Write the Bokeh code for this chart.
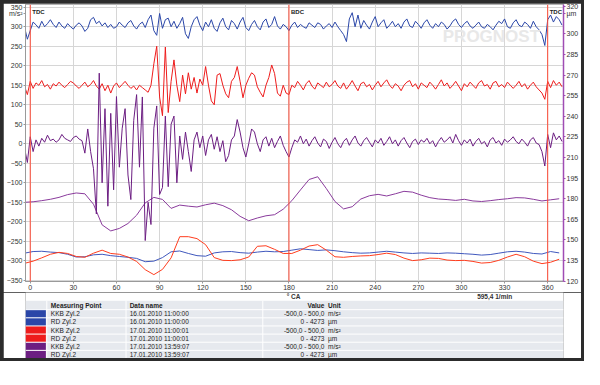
import numpy as np
from bokeh.plotting import figure
from bokeh.models import Range1d, LinearAxis, FixedTicker, Span, Label
from bokeh.layouts import column
from bokeh.embed import file_html
from bokeh.resources import INLINE
from bokeh.core.properties import value

# ---------------- data ----------------
# acceleration traces (KKB, m/s² incl. display offset), every 2 deg crank angle from -4 deg
kkb_start, kkb_step = -4, 2
kkb_blue = [
    300, 268, 290, 312, 305, 296, 314, 300, 308, 318,
    306, 298, 312, 302, 296, 308, 300, 294, 304, 310,
    302, 288, 296, 318, 324, 308, 314, 302, 310, 298,
    306, 296, 300, 312, 304, 298, 310, 316, 302, 294,
    306, 312, 298, 318, 330, 290, 278, 334, 296, 318,
    322, 300, 314, 296, 308, 324, 282, 270, 300, 318,
    326, 304, 290, 312, 300, 318, 296, 288, 310, 322,
    300, 292, 316, 308, 294, 312, 324, 298, 290, 306,
    316, 300, 292, 312, 320, 298, 306, 326, 302, 294,
    306, 300, 290, 304, 312, 298, 306, 300, 296, 310,
    304, 298, 310, 306, 294, 302, 308, 298, 312, 300,
    290, 280, 262, 320, 336, 300, 330, 296, 316, 304,
    294, 312, 326, 300, 310, 318, 296, 304, 314, 300,
    308, 296, 312, 320, 302, 298, 314, 306, 296, 310,
    318, 304, 296, 308, 300, 312, 306, 294, 302, 314,
    320, 306, 298, 308, 314, 302, 296, 304, 312, 300,
    296, 306, 300, 292, 304, 314, 308, 320, 300, 296,
    310, 318, 304, 300, 312, 306, 296, 314, 300, 292,
    280, 252, 318, 330, 312, 326, 318, 304,
]
kkb_red = [
    148, 126, 160, 142, 156, 150, 162, 146, 152, 140,
    154, 148, 158, 150, 144, 152, 160, 156, 148, 142,
    150, 158, 146, 152, 162, 148, 140, 154, 136, 150,
    130, 148, 156, 144, 152, 160, 150, 142, 148, 138,
    150, 144, 138, 132, 150, 205, 250, 120, 72, 248,
    80, 160, 215, 150, 108, 176, 128, 182, 140, 170,
    130, 166, 150, 198, 150, 110, 100, 176, 180, 150,
    128, 118, 160, 170, 198, 160, 118, 150, 168, 182,
    176, 146, 132, 120, 150, 170, 202, 180, 130, 122,
    150, 130, 126, 150, 144, 160, 150, 138, 154, 162,
    148, 140, 156, 150, 144, 158, 146, 152, 162, 148,
    142, 156, 140, 150, 162, 148, 136, 154, 158, 146,
    152, 138, 150, 160, 146, 156, 164, 150, 142, 154,
    148, 136, 150, 158, 162, 146, 154, 140, 156, 150,
    144, 158, 150, 140, 152, 164, 148, 156, 142, 150,
    160, 148, 136, 154, 146, 158, 150, 142, 156, 162,
    148, 152, 140, 156, 160, 146, 152, 144, 158, 150,
    142, 150, 160, 146, 154, 140, 150, 158, 146, 138,
    130, 114, 160, 144, 162, 150, 158, 146,
]
kkb_purple = [
    -10, -48, 18, -20, 10, -6, 14, 4, 22, 8,
    12, 4, 10, 24, 14, 10, 6, 16, 20, 12,
    8, -24, 38, -20, -64, -180, 181, -100, 90, -160,
    78, -118, 121, -60, 40, 90, -80, -143, 60, 126,
    -60, 120, -248, -150, -207, 40, 97, -130, -112, 71,
    -110, 50, 71, -100, 20, -40, 30, -20, -71, 10,
    30, -10, 20, -30, 10, 24, -14, 18, -20, 8,
    -46, -30, 10, 20, 62, 30, -10, -34, 0, 38,
    30, 0, -20, 10, 18, -6, 14, -10, 6, 20,
    -4, -20, -34, -10, 10, 4, 20, 0, 12, -6,
    8, 18, 2, -8, 12, 6, -12, 4, 16, 0,
    -10, 6, 14, -4, 10, 20, 2, -6, 8, 16,
    4, -8, 10, 2, 14, -4, 6, 18, 0, 10,
    -6, 8, 16, 2, -10, 6, 12, -2, 10, 4,
    14, 0, 8, -8, 6, 16, 4, 10, 18, 2,
    24, 8, -4, 10, 2, 12, -6, 6, 14, 0,
    6, -8, 10, 16, 2, 8, -4, 12, 4, 10,
    18, 6, 0, 12, 4, -6, 10, 16, 2, -2,
    -20, -57, 24, -10, 28, 10, 20, 6,
]

# displacement traces (RD, µm), every 6 deg from -4 deg
rd_start, rd_step = -4, 6
rd_purple = [
    177.4, 177.8, 178.6, 179.6, 181.0, 183.0, 184.2, 183.6, 176.0, 161.0,
    156.6, 158.4, 162.0, 168.0, 177.0, 181.0, 179.5, 173.0, 175.4, 174.6,
    174.0, 175.6, 176.8, 175.0, 172.0, 167.2, 164.0, 166.0, 167.6, 168.4,
    172.4, 178.6, 186.4, 194.0, 196.0, 187.4, 178.0, 172.6, 174.2, 179.8,
    182.2, 183.2, 182.0, 183.6, 185.4, 184.8, 182.6, 180.8, 179.8, 179.4,
    178.8, 179.6, 178.4, 178.0, 178.6, 179.4, 180.0, 180.8, 180.6, 179.6,
    178.4, 179.2, 180.0,
]
rd_blue = [
    140.4, 141.6, 141.8, 141.2, 140.8, 139.6, 137.6, 137.8, 139.2, 139.6,
    138.6, 138.0, 137.4, 136.6, 134.2, 134.6, 137.2, 141.4, 142.0, 140.2,
    138.6, 138.2, 140.6, 141.4, 141.6, 140.8, 140.4, 141.2, 141.8, 141.4,
    141.6, 142.6, 143.6, 143.0, 142.4, 142.8, 142.2, 141.4, 140.8, 140.4,
    140.6, 141.2, 141.8, 141.2, 140.6, 140.2, 140.6, 140.4, 140.2, 140.6,
    140.4, 140.0, 139.6, 139.0, 139.4, 140.4, 141.4, 141.8, 141.2, 140.2,
    139.8, 141.6, 140.6,
]
rd_red = [
    133.0, 134.6, 137.0, 139.6, 141.0, 140.2, 138.0, 137.4, 140.4, 142.6,
    140.2, 139.6, 137.6, 134.4, 128.4, 124.8, 128.6, 137.0, 152.4, 152.4,
    151.0, 146.6, 137.2, 135.2, 135.0, 135.6, 137.6, 145.4, 145.8, 143.2,
    140.2, 140.2, 142.6, 145.6, 146.6, 142.6, 137.8, 137.4, 138.0, 138.4,
    138.6, 139.4, 140.4, 139.4, 136.8, 135.0, 135.6, 136.8, 136.6, 135.4,
    135.0, 135.2, 134.4, 133.2, 133.6, 135.2, 137.6, 139.6, 137.8, 134.6,
    132.8, 133.8, 136.0,
]

x_ticks = [0, 30, 60, 90, 120, 150, 180, 210, 240, 270, 300, 330, 360]
left_ticks = [-350, -300, -250, -200, -150, -100, -50, 0, 50, 100, 150, 200, 250, 300, 350]
right_ticks = [120, 135, 150, 165, 180, 195, 210, 225, 240, 255, 270, 285, 300, 320]
left_unit, left_unit_at = "m/s²", 333
right_unit, right_unit_at = "µm", 314.5
dead_centres = [0, 180, 360]
dead_centre_names = ["TDC", "BDC", "TDC"]
speed_text = "595,4 1/min"
x_caption = "° CA"

measuring_points = ["KKB Zyl.2", "RD Zyl.2", "KKB Zyl.2", "RD Zyl.2", "KKB Zyl.2", "RD Zyl.2"]
data_names = ["16.01.2010 11:00:00", "16.01.2010 11:00:00", "17.01.2010 11:00:01",
              "17.01.2010 11:00:01", "17.01.2010 13:59:07", "17.01.2010 13:59:07"]
value_ranges = ["-500,0 - 500,0", "0 - 4273", "-500,0 - 500,0", "0 - 4273", "-500,0 - 500,0", "0 - 4273"]
units = ["m/s²", "µm", "m/s²", "µm", "m/s²", "µm"]
table_header = ["Measuring Point", "Data name", "Value", "Unit"]

# ---------------- styles ----------------
FONT = "Liberation Sans"
C_BLUE, C_BLUE_RD = "#2a46a8", "#4058bd"
C_RED, C_RED_RD = "#ee1c1c", "#ff3d1e"
C_PUR, C_PUR_RD = "#6c1e82", "#8a3b9c"
row_colors = [C_BLUE, C_BLUE, C_RED, C_RED, C_PUR, C_PUR]
W = 578


def xs(vals, start, step):
    return start + step * np.arange(len(vals))


def style_axis(ax, line_color="#9a9a9a"):
    ax.major_label_text_font = FONT
    ax.major_label_text_font_size = "7px"
    ax.major_label_text_color = "#333333"
    ax.axis_line_color = line_color
    ax.major_tick_line_color = line_color
    ax.major_tick_out = 2
    ax.major_tick_in = 0
    ax.minor_tick_line_color = None
    ax.major_label_standoff = 1
    ax.axis_label_standoff = 0


p = figure(width=W, height=289, x_range=Range1d(-3.3, 371), y_range=Range1d(-353, 357),
           output_backend="svg", toolbar_location=None,
           min_border_left=16, min_border_right=15, min_border_top=1, min_border_bottom=0,
           background_fill_color="white", border_fill_color="white",
           outline_line_color="#b4b4b4")
p.extra_y_ranges = {"rd": Range1d(119.8, 321.3)}

style_axis(p.xaxis[0])
style_axis(p.yaxis[0])
p.xaxis.ticker = FixedTicker(ticks=x_ticks)
p.yaxis.ticker = FixedTicker(ticks=left_ticks + [left_unit_at])
p.yaxis.major_label_overrides = {left_unit_at: left_unit}

ax_r = LinearAxis(y_range_name="rd", ticker=FixedTicker(ticks=right_ticks + [right_unit_at]))
style_axis(ax_r, "#a04cb4")
ax_r.axis_line_width = 1.5
ax_r.major_label_overrides = {right_unit_at: right_unit}
p.add_layout(ax_r, "right")

p.xgrid.ticker = FixedTicker(ticks=x_ticks)
p.ygrid.ticker = FixedTicker(ticks=left_ticks)
p.grid.grid_line_color = "#d6d6d6"
p.grid.grid_line_width = 1

# watermark
p.add_layout(Label(x=287, y=274, text="PROGNOST", text_font=FONT, text_font_size="17px",
                   text_font_style="bold", text_color="#e8e8e8", text_baseline="middle",
                   text_align="left"))

# displacement traces (right axis)
p.line(xs(rd_purple, rd_start, rd_step), rd_purple, y_range_name="rd", line_color=C_PUR_RD, line_width=1)
p.line(xs(rd_blue, rd_start, rd_step), rd_blue, y_range_name="rd", line_color=C_BLUE_RD, line_width=1)
p.line(xs(rd_red, rd_start, rd_step), rd_red, y_range_name="rd", line_color=C_RED_RD, line_width=1)

# acceleration traces (left axis)
p.line(xs(kkb_blue, kkb_start, kkb_step), kkb_blue, line_color=C_BLUE, line_width=1)
p.line(xs(kkb_red, kkb_start, kkb_step), kkb_red, line_color=C_RED, line_width=1)
p.line(xs(kkb_purple, kkb_start, kkb_step), kkb_purple, line_color=C_PUR, line_width=1)

for loc, name in zip(dead_centres, dead_centre_names):
    p.add_layout(Span(location=loc, dimension="height", line_color="#ff4a36", line_width=1))
    p.add_layout(Label(x=loc, y=357, x_offset=2, y_offset=-4, text=name, text_font=FONT,
                       text_font_size="6px", text_font_style="bold", text_color="#222222",
                       text_baseline="top", text_align="left"))

# ---------------- table (coordinates in the original pixel grid) ----------------
t = figure(width=W, height=66, x_range=Range1d(3, 597), y_range=Range1d(382, 309),
           output_backend="svg", toolbar_location=None, x_axis_type=None, y_axis_type=None,
           min_border=0, outline_line_color=None, background_fill_color="white",
           border_fill_color="white")
t.grid.visible = False

bold_txt = dict(text_font=value(FONT), text_font_size="6.5px", text_color="#333333",
                text_baseline="middle", text_font_style="bold", text_align="center")
t.text(x=[299, 521], y=[313.5, 313.5], text=[x_caption, speed_text], **bold_txt)

n = len(measuring_points)
row_h = 9
head_top = 318
rows_top = 328
t.quad(left=3, right=597, top=head_top, bottom=rows_top + n * row_h, fill_color="#e6e9ee", line_color=None)
tops = [rows_top + i * row_h for i in range(n)]
bots = [rows_top + (i + 1) * row_h for i in range(n)]
t.quad(left=3, right=25.5, top=tops, bottom=bots, fill_color=row_colors, line_color=None)
t.segment(x0=3, x1=597, y0=tops, y1=tops, line_color="white", line_width=1)
for xv in (26.5, 114, 265):
    t.segment(x0=xv, x1=xv, y0=head_top, y1=rows_top + n * row_h, line_color="white", line_width=1)

txt = dict(text_font=value(FONT), text_font_size="6.5px", text_color="#1e1e1e", text_baseline="middle")
hy = (head_top + rows_top) / 2
t.text(x=[31, 118, 337], y=[hy] * 3, text=[table_header[0], table_header[1], table_header[3]],
       text_font_style="bold", text_align="left", **txt)
t.text(x=[333], y=[hy], text=[table_header[2]], text_font_style="bold", text_align="right", **txt)
cy = [rows_top + (i + 0.5) * row_h for i in range(n)]
t.text(x=[31] * n, y=cy, text=measuring_points, text_align="left", **txt)
t.text(x=[118] * n, y=cy, text=data_names, text_align="left", **txt)
t.text(x=[333] * n, y=cy, text=value_ranges, text_align="right", **txt)
t.text(x=[337] * n, y=cy, text=units, text_align="left", **txt)

layout = column(p, t, spacing=0,
                styles={"padding": "3px", "background-color": "#2c2c2c"})

open("out.html", "w").write(file_html(layout, INLINE))
